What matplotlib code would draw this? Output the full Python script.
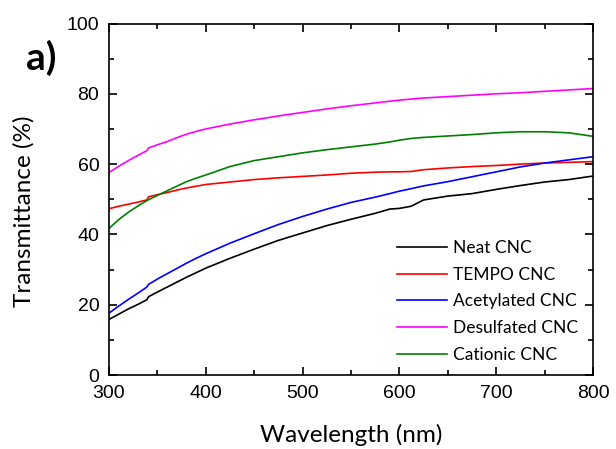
import matplotlib
matplotlib.use("Agg")
import matplotlib.pyplot as plt
from matplotlib.ticker import MultipleLocator

wavelength = [300, 310, 320, 330, 339, 341, 350, 360, 370, 380, 390, 400, 425, 450, 475, 500,
              525, 550, 575, 590, 600, 612, 625, 650, 675, 700, 725, 750, 775, 800]
neat = [15.8, 17.3, 18.8, 20.1, 21.4, 22.3, 23.6, 25.0, 26.4, 27.8, 29.1, 30.4, 33.2, 35.8,
        38.3, 40.4, 42.5, 44.3, 46.0, 47.2, 47.4, 48.0, 49.8, 50.9, 51.6, 52.8, 53.9, 54.9,
        55.6, 56.6]
tempo = [47.3, 48.0, 48.6, 49.2, 49.8, 50.7, 51.3, 51.9, 52.6, 53.2, 53.7, 54.2, 54.9, 55.6,
         56.1, 56.5, 56.9, 57.4, 57.7, 57.8, 57.8, 57.9, 58.4, 58.9, 59.3, 59.6, 60.0, 60.3,
         60.5, 60.7]
acetylated = [17.6, 19.6, 21.5, 23.3, 25.0, 25.8, 27.3, 28.8, 30.3, 31.8, 33.2, 34.5, 37.5,
              40.2, 42.8, 45.1, 47.2, 49.1, 50.6, 51.6, 52.3, 53.0, 53.8, 55.0, 56.4, 57.8,
              59.2, 60.3, 61.2, 62.1]
desulfated = [57.6, 59.4, 61.0, 62.5, 63.8, 64.6, 65.5, 66.4, 67.5, 68.5, 69.3, 70.0, 71.4,
              72.6, 73.7, 74.7, 75.7, 76.6, 77.4, 77.9, 78.2, 78.5, 78.8, 79.2, 79.6, 80.0,
              80.3, 80.7, 81.1, 81.5]
cationic = [41.7, 44.2, 46.3, 48.1, 49.6, 49.9, 51.1, 52.4, 53.7, 55.0, 56.0, 56.9, 59.3,
            61.0, 62.1, 63.2, 64.1, 64.9, 65.7, 66.3, 66.8, 67.3, 67.6, 68.0, 68.4, 68.9,
            69.2, 69.2, 68.9, 67.9]

labels = ["Neat CNC", "TEMPO CNC", "Acetylated CNC", "Desulfated CNC", "Cationic CNC"]
colors = ["black", "#ff0000", "#0000ff", "#ff00ff", "#008000"]
series = [neat, tempo, acetylated, desulfated, cationic]

fig = plt.figure(figsize=(6.16, 4.49), dpi=100)
ax = fig.add_axes([109/616, 1-375/449, (593-109)/616, (375-23.5)/449])

for s, c, l in zip(series, colors, labels):
    ax.plot(wavelength, s, color=c, lw=1.2, label=l)

ax.set_xlim(300, 800)
ax.set_ylim(0, 100)
ax.xaxis.set_major_locator(MultipleLocator(100))
ax.xaxis.set_minor_locator(MultipleLocator(50))
ax.yaxis.set_major_locator(MultipleLocator(20))
ax.yaxis.set_minor_locator(MultipleLocator(10))
ax.tick_params(which="both", direction="in", top=True, right=True, width=1.2)
ax.tick_params(which="major", length=6, labelsize=14, pad=7)
ax.tick_params(which="minor", length=3.5)
for sp in ax.spines.values():
    sp.set_linewidth(1.2)
for lab in ax.get_xticklabels() + ax.get_yticklabels():
    lab.set_family("Liberation Sans")

ax.set_xlabel("Wavelength (nm)", fontsize=17.5, family="Lato", labelpad=16)
ax.set_ylabel("Transmittance (%)", fontsize=17.5, family="Lato")
ax.yaxis.set_label_coords(-0.153, 0.467)

leg = ax.legend(loc="lower right", frameon=False, prop={"family": "Lato", "size": 12.5},
                handlelength=2.9, handletextpad=0.35, labelspacing=0.62,
                bbox_to_anchor=(1.002, -0.01))

fig.text(26/616, 1-70/449, "a)", fontsize=28, fontweight="bold", family="Lato")

fig.savefig("out.png", dpi=100)
